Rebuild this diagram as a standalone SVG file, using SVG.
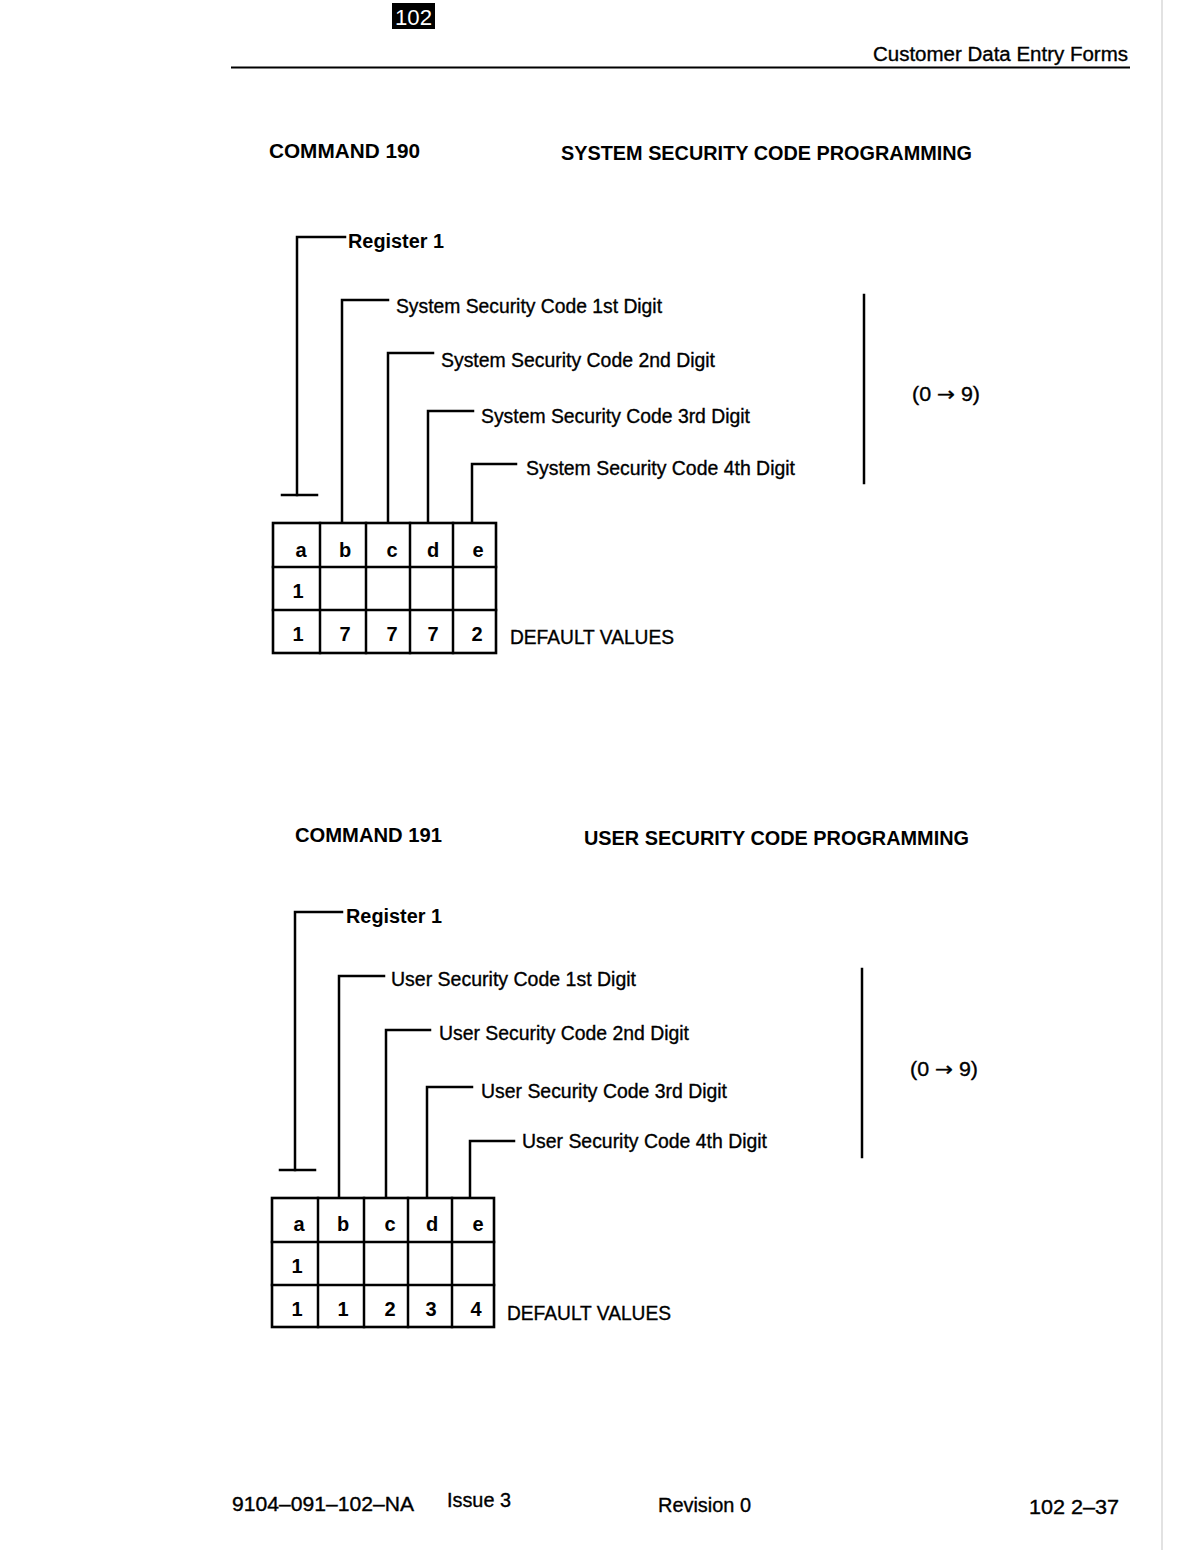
<svg xmlns="http://www.w3.org/2000/svg" width="1192" height="1568" viewBox="0 0 1192 1568">
<style>
  .ln { stroke: #000; stroke-width: 2.5; fill: none; stroke-linecap: square; }
  .tb { stroke: #000; stroke-width: 2.6; fill: #fff; }
  .t { font-family: "Liberation Sans", Arial, sans-serif; font-size: 20px; fill: #000; stroke: #000; stroke-width: 0.35; }
  .b { font-family: "Liberation Sans", Arial, sans-serif; font-size: 20px; font-weight: bold; fill: #000; }
  .c { font-family: "Liberation Sans", Arial, sans-serif; font-size: 20px; font-weight: bold; fill: #000; text-anchor: middle; }
  .arr { font-family: "DejaVu Sans", sans-serif; }
</style>
<rect x="0" y="0" width="1192" height="1568" fill="#fff"/>
<line x1="1162" y1="0" x2="1162" y2="1550" stroke="#d8d8d8" stroke-width="1.5"/>

<g id="header">
  <rect x="392" y="3" width="43" height="26" fill="#000"/>
  <text x="395" y="25" font-family="Liberation Sans, Arial, sans-serif" font-size="22" fill="#fff" textLength="37" lengthAdjust="spacingAndGlyphs">102</text>
  <text x="873" y="61" class="t" textLength="255" lengthAdjust="spacingAndGlyphs">Customer Data Entry Forms</text>
  <line x1="231" y1="67.5" x2="1130" y2="67.5" stroke="#000" stroke-width="2"/>
</g>

<!-- ===== COMMAND 190 ===== -->
<g id="cmd190-title">
  <text x="269" y="158" class="b" textLength="151" lengthAdjust="spacingAndGlyphs">COMMAND 190</text>
  <text x="561" y="160" class="b" textLength="411" lengthAdjust="spacingAndGlyphs">SYSTEM SECURITY CODE PROGRAMMING</text>
</g>

<g id="cmd190-connectors">
  <polyline class="ln" points="345,237 297,237 297,495"/>
  <line class="ln" x1="282" y1="495" x2="317" y2="495"/>
  <polyline class="ln" points="388,300 342,300 342,523"/>
  <polyline class="ln" points="433,353 388,353 388,523"/>
  <polyline class="ln" points="473,411 428,411 428,523"/>
  <polyline class="ln" points="516,464 472,464 472,523"/>
  <line class="ln" x1="864" y1="295" x2="864" y2="483"/>
</g>

<g id="cmd190-labels">
  <text x="348" y="248" class="b" textLength="96" lengthAdjust="spacingAndGlyphs">Register 1</text>
  <text x="396" y="313" class="t" textLength="266" lengthAdjust="spacingAndGlyphs">System Security Code 1st Digit</text>
  <text x="441" y="367" class="t" textLength="274" lengthAdjust="spacingAndGlyphs">System Security Code 2nd Digit</text>
  <text x="481" y="423" class="t" textLength="269" lengthAdjust="spacingAndGlyphs">System Security Code 3rd Digit</text>
  <text x="526" y="475" class="t" textLength="269" lengthAdjust="spacingAndGlyphs">System Security Code 4th Digit</text>
  <text x="912" y="401" class="t" textLength="68" lengthAdjust="spacingAndGlyphs">(0 <tspan class="arr">→</tspan> 9)</text>
</g>

<g id="cmd190-table">
  <rect class="tb" x="273" y="523" width="223" height="130"/>
  <line class="ln" x1="273" y1="567" x2="496" y2="567"/>
  <line class="ln" x1="273" y1="610" x2="496" y2="610"/>
  <line class="ln" x1="320" y1="523" x2="320" y2="653"/>
  <line class="ln" x1="366" y1="523" x2="366" y2="653"/>
  <line class="ln" x1="410" y1="523" x2="410" y2="653"/>
  <line class="ln" x1="453" y1="523" x2="453" y2="653"/>
  <text x="301" y="557" class="c">a</text>
  <text x="345" y="557" class="c">b</text>
  <text x="392" y="557" class="c">c</text>
  <text x="433" y="557" class="c">d</text>
  <text x="478" y="557" class="c">e</text>
  <text x="298" y="598" class="c">1</text>
  <text x="298" y="641" class="c">1</text>
  <text x="345" y="641" class="c">7</text>
  <text x="392" y="641" class="c">7</text>
  <text x="433" y="641" class="c">7</text>
  <text x="477" y="641" class="c">2</text>
  <text x="510" y="644" class="t" textLength="164" lengthAdjust="spacingAndGlyphs">DEFAULT VALUES</text>
</g>

<!-- ===== COMMAND 191 ===== -->
<g id="cmd191-title">
  <text x="295" y="842" class="b" textLength="147" lengthAdjust="spacingAndGlyphs">COMMAND 191</text>
  <text x="584" y="845" class="b" textLength="385" lengthAdjust="spacingAndGlyphs">USER SECURITY CODE PROGRAMMING</text>
</g>

<g id="cmd191-connectors">
  <polyline class="ln" points="342,912 295,912 295,1170"/>
  <line class="ln" x1="280" y1="1170" x2="315" y2="1170"/>
  <polyline class="ln" points="384,976 339,976 339,1198"/>
  <polyline class="ln" points="430,1030 386,1030 386,1198"/>
  <polyline class="ln" points="472,1087 427,1087 427,1198"/>
  <polyline class="ln" points="514,1141 470,1141 470,1198"/>
  <line class="ln" x1="862" y1="969" x2="862" y2="1157"/>
</g>

<g id="cmd191-labels">
  <text x="346" y="923" class="b" textLength="96" lengthAdjust="spacingAndGlyphs">Register 1</text>
  <text x="391" y="986" class="t" textLength="245" lengthAdjust="spacingAndGlyphs">User Security Code 1st Digit</text>
  <text x="439" y="1040" class="t" textLength="250" lengthAdjust="spacingAndGlyphs">User Security Code 2nd Digit</text>
  <text x="481" y="1098" class="t" textLength="246" lengthAdjust="spacingAndGlyphs">User Security Code 3rd Digit</text>
  <text x="522" y="1148" class="t" textLength="245" lengthAdjust="spacingAndGlyphs">User Security Code 4th Digit</text>
  <text x="910" y="1076" class="t" textLength="68" lengthAdjust="spacingAndGlyphs">(0 <tspan class="arr">→</tspan> 9)</text>
</g>

<g id="cmd191-table">
  <rect class="tb" x="272" y="1198" width="222" height="129"/>
  <line class="ln" x1="272" y1="1242" x2="494" y2="1242"/>
  <line class="ln" x1="272" y1="1285" x2="494" y2="1285"/>
  <line class="ln" x1="318" y1="1198" x2="318" y2="1327"/>
  <line class="ln" x1="364" y1="1198" x2="364" y2="1327"/>
  <line class="ln" x1="408" y1="1198" x2="408" y2="1327"/>
  <line class="ln" x1="452" y1="1198" x2="452" y2="1327"/>
  <text x="299" y="1231" class="c">a</text>
  <text x="343" y="1231" class="c">b</text>
  <text x="390" y="1231" class="c">c</text>
  <text x="432" y="1231" class="c">d</text>
  <text x="478" y="1231" class="c">e</text>
  <text x="297" y="1273" class="c">1</text>
  <text x="297" y="1316" class="c">1</text>
  <text x="343" y="1316" class="c">1</text>
  <text x="390" y="1316" class="c">2</text>
  <text x="431" y="1316" class="c">3</text>
  <text x="476" y="1316" class="c">4</text>
  <text x="507" y="1320" class="t" textLength="164" lengthAdjust="spacingAndGlyphs">DEFAULT VALUES</text>
</g>

<g id="footer">
  <text x="232" y="1511" class="t" textLength="182" lengthAdjust="spacingAndGlyphs">9104–091–102–NA</text>
  <text x="447" y="1507" class="t" textLength="64" lengthAdjust="spacingAndGlyphs">Issue 3</text>
  <text x="658" y="1512" class="t" textLength="93" lengthAdjust="spacingAndGlyphs">Revision 0</text>
  <text x="1029" y="1514" class="t" textLength="90" lengthAdjust="spacingAndGlyphs">102  2–37</text>
</g>
</svg>
